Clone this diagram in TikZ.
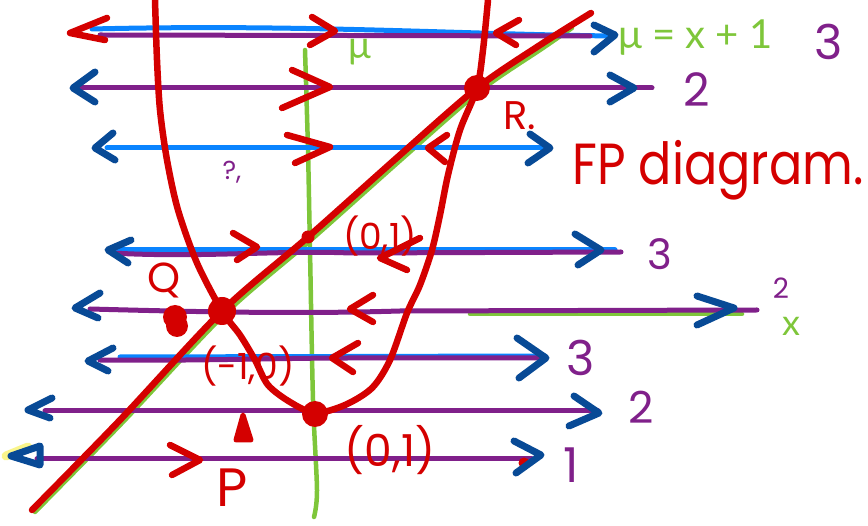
\documentclass[tikz,border=0pt]{standalone}
\usepackage{fontspec}
\setmainfont{Poppins}
\newfontfamily\gfont{Lato}
\definecolor{hred}{RGB}{212,0,0}
\definecolor{hpur}{RGB}{128,32,138}
\definecolor{hblue}{RGB}{10,132,255}
\definecolor{hdblue}{RGB}{8,74,150}
\definecolor{hgreen}{RGB}{126,198,58}
\definecolor{hyel}{RGB}{250,245,140}
\begin{document}
\begin{tikzpicture}[x=1pt,y=-1pt,
  greenline/.style={hgreen,line width=4.5pt,line cap=round,line join=round},
  blueline/.style={hblue,line width=5pt,line cap=round},
  purline/.style={hpur,line width=5pt,line cap=round},
  redline/.style={hred,line width=6.5pt,line cap=round,line join=round},
  bchev/.style={hdblue,line width=7pt,line cap=round,line join=round},
  rchev/.style={hred,line width=6.5pt,line cap=round,line join=round},
  dot/.style={circle,fill=hred,inner sep=0pt},
  plab/.style={text=hpur,inner sep=0pt},
  rlab/.style={text=hred,inner sep=0pt},
  glab/.style={text=hgreen,inner sep=0pt}]
\useasboundingbox (0,0) rectangle (868,526);

% yellow highlight
\draw[hyel,line width=9pt,line cap=round] (6,456) -- (28,447);

% green axes and line mu = x+1
\draw[greenline] plot[smooth] coordinates {(305,50) (308,150) (310,250) (313,400) (317,490) (314,517)};
\draw[greenline] plot[smooth] coordinates {(35,512) (123,422) (225,314) (311,240) (403,158) (480,91) (543,48) (572,28)};
\coordinate (gx1) at (470,314); \coordinate (gx2) at (742,314);
\draw[greenline] (gx1) -- (gx2);

% row lines
\coordinate (b1a) at (92,29); \coordinate (b1b) at (612,36);
\draw[blueline] (b1a) .. controls (300,24) and (450,34) .. (b1b);
\coordinate (p1a) at (100,35); \coordinate (p1b) at (590,36);
\draw[purline] (p1a) -- (p1b);
\coordinate (p2a) at (80,88); \coordinate (p2b) at (652,88);
\draw[purline] (p2a) -- (p2b);
\coordinate (b3a) at (107,148); \coordinate (b3b) at (544,148);
\draw[blueline] (b3a) -- (b3b);
\coordinate (b4a) at (115,250); \coordinate (b4b) at (615,250);
\draw[blueline] (b4a) -- (b4b);
\coordinate (p4a) at (112,253); \coordinate (p4b) at (621,252);
\draw[purline] (p4a) .. controls (200,258) and (280,250) .. (350,253) -- (p4b);
\coordinate (p5a) at (90,309); \coordinate (p5b) at (757,310);
\draw[purline] (p5a) .. controls (200,312) and (300,314) .. (400,311) -- (p5b);
\coordinate (b6a) at (120,357); \coordinate (b6b) at (545,356);
\draw[blueline] (b6a) -- (b6b);
\coordinate (p6a) at (100,360); \coordinate (p6b) at (545,358);
\draw[purline] (p6a) .. controls (200,361) and (280,358) .. (350,358) -- (p6b);
\coordinate (p7a) at (45,411); \coordinate (p7b) at (598,411);
\draw[purline] (p7a) -- (p7b);
\coordinate (p8a) at (37,459); \coordinate (p8b) at (532,459);
\draw[purline] (p8a) -- (p8b);

% red curves
\draw[redline] plot[smooth] coordinates {(155,0) (157,60) (160,110) (167,160) (178,210) (197,263) (222,311) (240,335) (255,360) (268,385) (290,402) (315,413) (345,405) (372,388) (390,360) (407,313) (420,285) (432,250) (440,215) (448,175) (460,130) (477,88) (483,50) (488,0)};
\draw[redline] plot[smooth] coordinates {(32,510) (120,420) (222,311) (308,237) (400,155) (477,88) (540,45) (591,13)};

% fixed points
\node[dot,minimum size=26pt] (R) at (477,88) {};
\node[dot,minimum size=28pt] (Q) at (222,311) {};
\node[dot,minimum size=26pt] (B) at (315,414) {};
\node[dot,minimum size=13pt] (C) at (308,237) {};
\node[dot,minimum size=24pt] (blob1) at (175,317) {};
\node[dot,minimum size=22pt] (blob2) at (177,326) {};
\draw[hred,fill=hred,line width=5pt,line join=round] (236,440) -- (243,415) -- (251,440) -- cycle;
\fill[hred] (524,463) circle (5.5pt);

% chevrons row 1
\draw[rchev] (107,18) -- (70,33) -- (105,40);
\draw[rchev] (312,17) -- (335,31) -- (310,45);
\draw[rchev] (519,20) -- (496,33) -- (516,45);
\draw[bchev] (594,25) -- (615,35) -- (594,52);
% row 2
\draw[bchev] (95,72) -- (73,88) -- (95,102);
\draw[rchev] (292,70) -- (330,87) -- (282,108);
\draw[bchev] (610,75) -- (634,88) -- (610,102);
% row 3
\draw[bchev] (113,133) -- (95,148) -- (115,160);
\draw[rchev] (287,135) -- (330,147) -- (295,163);
\draw[rchev] (447,135) -- (428,148) -- (445,162);
\draw[bchev] (530,134) -- (550,148) -- (528,163);
% row 4
\draw[bchev] (131,240) -- (108,250) -- (128,263);
\draw[rchev] (233,233) -- (257,247) -- (237,260);
\draw[rchev] (420,238) -- (380,258) -- (407,270);
\draw[bchev] (575,234) -- (601,250) -- (578,265);
% row 5
\draw[bchev] (100,293) -- (75,308) -- (98,318);
\draw[rchev] (373,295) -- (350,309) -- (373,322);
\draw[bchev] (697,296) -- (734,308) -- (697,325);
% row 6
\draw[bchev] (113,348) -- (88,361) -- (108,371);
\draw[rchev] (358,343) -- (332,358) -- (353,372);
\draw[bchev] (517,338) -- (546,358) -- (519,378);
% row 7
\draw[bchev] (52,398) -- (28,410) -- (50,418);
\draw[bchev] (574,396) -- (599,413) -- (569,426);
% row 8
\draw[bchev] (40,446) -- (11,456) -- (40,465) -- cycle;
\draw[rchev] (170,445) -- (200,460) -- (172,475);
\draw[bchev] (514,441) -- (541,455) -- (516,473);

% labels
\node[glab,font=\gfont\fontsize{38}{38}\selectfont] (mu1) at (360,52) {μ};
\node[glab,font=\gfont\fontsize{40}{40}\selectfont,anchor=west] (eq) at (618,38) {μ = x + 1};
\node[plab,font=\fontsize{48}{48}\selectfont] (l1) at (829,42) {3};
\node[plab,font=\fontsize{46}{46}\selectfont] (l2) at (697,90) {2};
\node[plab,font=\fontsize{42}{42}\selectfont] (l4) at (660,254) {3};
\node[plab,font=\fontsize{28}{28}\selectfont] (l5) at (781,288) {2};
\node[glab,font=\gfont\fontsize{36}{36}\selectfont] (l5x) at (791,326) {x};
\node[plab,font=\fontsize{48}{48}\selectfont] (l6) at (581,358) {3};
\node[plab,font=\fontsize{44}{44}\selectfont] (l7) at (641,407) {2};
\node[plab,font=\fontsize{48}{48}\selectfont] (l8) at (571,465) {1};
\node[plab,font=\fontsize{26}{26}\selectfont] (qm) at (232,172) {?,};
\node[rlab,font=\fontsize{58}{58}\selectfont,anchor=west] (fp) at (572,170) {\scalebox{0.85}[1]{FP diagram.}};
\node[rlab,font=\fontsize{40}{40}\selectfont] (Rl) at (520,116) {R.};
\node[rlab,font=\fontsize{42}{42}\selectfont] (Ql) at (164,280) {Q};
\node[rlab,font=\fontsize{54}{54}\selectfont] (Pl) at (232,488) {P};
\node[rlab,font=\fontsize{36}{36}\selectfont] (c1) at (380,236) {(0,1)};
\node[rlab,font=\fontsize{36}{36}\selectfont] (c2) at (248,366) {(-1,0)};
\node[rlab,font=\fontsize{44}{44}\selectfont] (c3) at (390,450) {(0,1)};
\end{tikzpicture}
\end{document}
